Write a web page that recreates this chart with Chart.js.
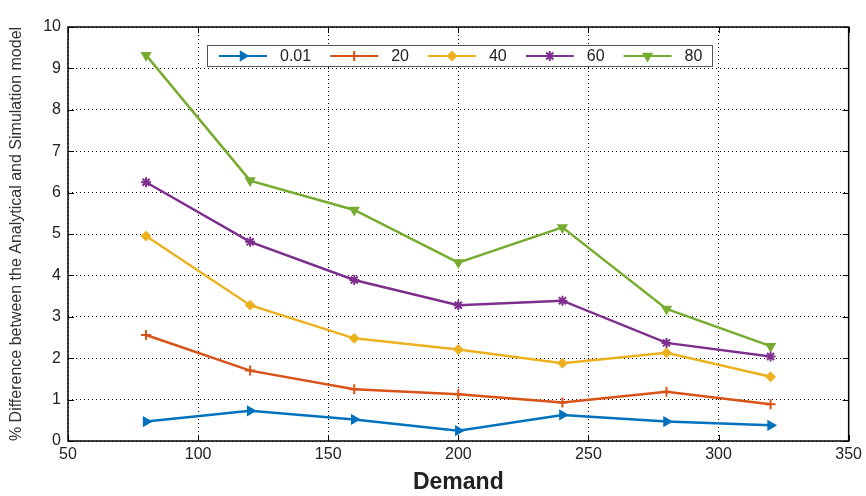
<!DOCTYPE html>
<html>
<head>
<meta charset="utf-8">
<script src="https://cdn.jsdelivr.net/npm/chart.js@4.4.1/dist/chart.umd.min.js"></script>
<style>
  html, body { margin: 0; padding: 0; background: #fff; }
  #wrap { width: 866px; height: 496px; }
</style>
</head>
<body>
<div id="wrap"><canvas id="diffChart" width="866" height="496"></canvas></div>
<script>
// demand values on the x axis
const demand = [80, 120, 160, 200, 240, 280, 320];

// one series per legend entry
const serie001 = [0.47, 0.73, 0.52, 0.25, 0.63, 0.47, 0.38];
const serie20  = [2.56, 1.70, 1.25, 1.13, 0.93, 1.19, 0.89];
const serie40  = [4.95, 3.28, 2.48, 2.21, 1.88, 2.13, 1.55];
const serie60  = [6.25, 4.81, 3.89, 3.28, 3.39, 2.37, 2.04];
const serie80  = [9.32, 6.29, 5.58, 4.31, 5.16, 3.19, 2.29];

const etiquetas = ['0.01', '20', '40', '60', '80'];

const fuente = 'Arial, "Liberation Sans", sans-serif';

function armarSerie(label, valores, color, estilo, rotacion, radio) {
    return {
        label: label,
        data: demand.map((d, i) => ({ x: d, y: valores[i] })),
        borderColor: color,
        backgroundColor: color,
        borderWidth: 2.5,
        pointStyle: estilo,
        pointRotation: rotacion,
        pointRadius: radio,
        pointBorderWidth: 2,
        pointHoverRadius: radio,
        tension: 0,
        fill: false
    };
}

// leyenda tipo matlab dentro del área del gráfico
const leyendaInterna = {
    id: 'leyendaInterna',
    afterDatasetsDraw(chart) {
        const ctx = chart.ctx;
        const x0 = 207, y0 = 45, ancho = 505, alto = 21;
        ctx.save();
        ctx.fillStyle = '#fff';
        ctx.fillRect(x0, y0, ancho, alto);
        ctx.strokeStyle = '#555';
        ctx.lineWidth = 1;
        ctx.strokeRect(x0 + 0.5, y0 + 0.5, ancho, alto);
        ctx.font = '16px ' + fuente;
        ctx.textBaseline = 'middle';
        ctx.fillStyle = '#222';
        let cx = 219;
        const cy = y0 + alto / 2 + 0.5;
        chart.data.datasets.forEach(ds => {
            ctx.strokeStyle = ds.borderColor;
            ctx.lineWidth = 2;
            ctx.beginPath();
            ctx.moveTo(cx, cy);
            ctx.lineTo(cx + 48, cy);
            ctx.stroke();
            ctx.fillStyle = ds.borderColor;
            Chart.helpers.drawPoint(ctx, {
                pointStyle: ds.pointStyle,
                rotation: ds.pointRotation,
                radius: ds.pointRadius,
                borderWidth: 2
            }, cx + 24, cy);
            ctx.fillStyle = '#222';
            ctx.fillText(ds.label, cx + 61, cy + 1);
            cx += 61 + ctx.measureText(ds.label).width + 19;
        });
        ctx.restore();
    }
};

// marco negro y marcas de escala hacia adentro
const marcoEjes = {
    id: 'marcoEjes',
    afterDraw(chart) {
        const { ctx, chartArea: a, scales } = chart;
        ctx.save();
        ctx.strokeStyle = '#000';
        ctx.lineWidth = 1.5;
        ctx.strokeRect(a.left, a.top, a.right - a.left, a.bottom - a.top);
        ctx.lineWidth = 1;
        ctx.beginPath();
        scales.x.ticks.forEach(t => {
            const px = Math.round(scales.x.getPixelForValue(t.value)) + 0.5;
            ctx.moveTo(px, a.bottom); ctx.lineTo(px, a.bottom - 6);
            ctx.moveTo(px, a.top); ctx.lineTo(px, a.top + 6);
        });
        scales.y.ticks.forEach(t => {
            const py = Math.round(scales.y.getPixelForValue(t.value)) + 0.5;
            ctx.moveTo(a.left, py); ctx.lineTo(a.left + 6, py);
            ctx.moveTo(a.right, py); ctx.lineTo(a.right - 6, py);
        });
        ctx.stroke();
        ctx.restore();
    }
};

new Chart(document.getElementById('diffChart'), {
    type: 'line',
    data: {
        datasets: [
            armarSerie(etiquetas[0], serie001, '#0072BD', 'triangle', 90, 4.5),
            armarSerie(etiquetas[1], serie20, '#D95319', 'cross', 0, 5),
            armarSerie(etiquetas[2], serie40, '#EDB120', 'rectRot', 0, 4),
            armarSerie(etiquetas[3], serie60, '#7E2F8E', 'star', 0, 5),
            armarSerie(etiquetas[4], serie80, '#77AC30', 'triangle', 180, 4.5)
        ]
    },
    options: {
        responsive: false,
        animation: false,
        layout: { padding: { top: 27, right: 16, left: 0, bottom: 0 } },
        plugins: {
            legend: { display: false },
            tooltip: { enabled: false }
        },
        scales: {
            x: {
                type: 'linear',
                min: 50,
                max: 350,
                ticks: { stepSize: 50, color: '#222', font: { family: fuente, size: 16 }, padding: 4 },
                grid: { color: '#000', lineWidth: 1, drawTicks: false },
                border: { display: false, dash: [1, 3] },
                title: {
                    display: true,
                    text: 'Demand',
                    color: '#222',
                    font: { family: fuente, size: 23, weight: 'bold' },
                    padding: { top: 2, bottom: 0 }
                },
                afterFit(scale) { scale.height = 55; }
            },
            y: {
                min: 0,
                max: 10,
                ticks: { stepSize: 1, color: '#222', font: { family: fuente, size: 16 }, padding: 7 },
                grid: { color: '#000', lineWidth: 1, drawTicks: false },
                border: { display: false, dash: [1, 3] },
                title: {
                    display: true,
                    text: '% Difference between the Analytical and Simulation model',
                    color: '#333',
                    font: { family: fuente, size: 16 },
                    padding: { top: 7, bottom: 0 }
                },
                afterFit(scale) { scale.width = 68; }
            }
        }
    },
    plugins: [leyendaInterna, marcoEjes]
});
</script>
</body>
</html>
